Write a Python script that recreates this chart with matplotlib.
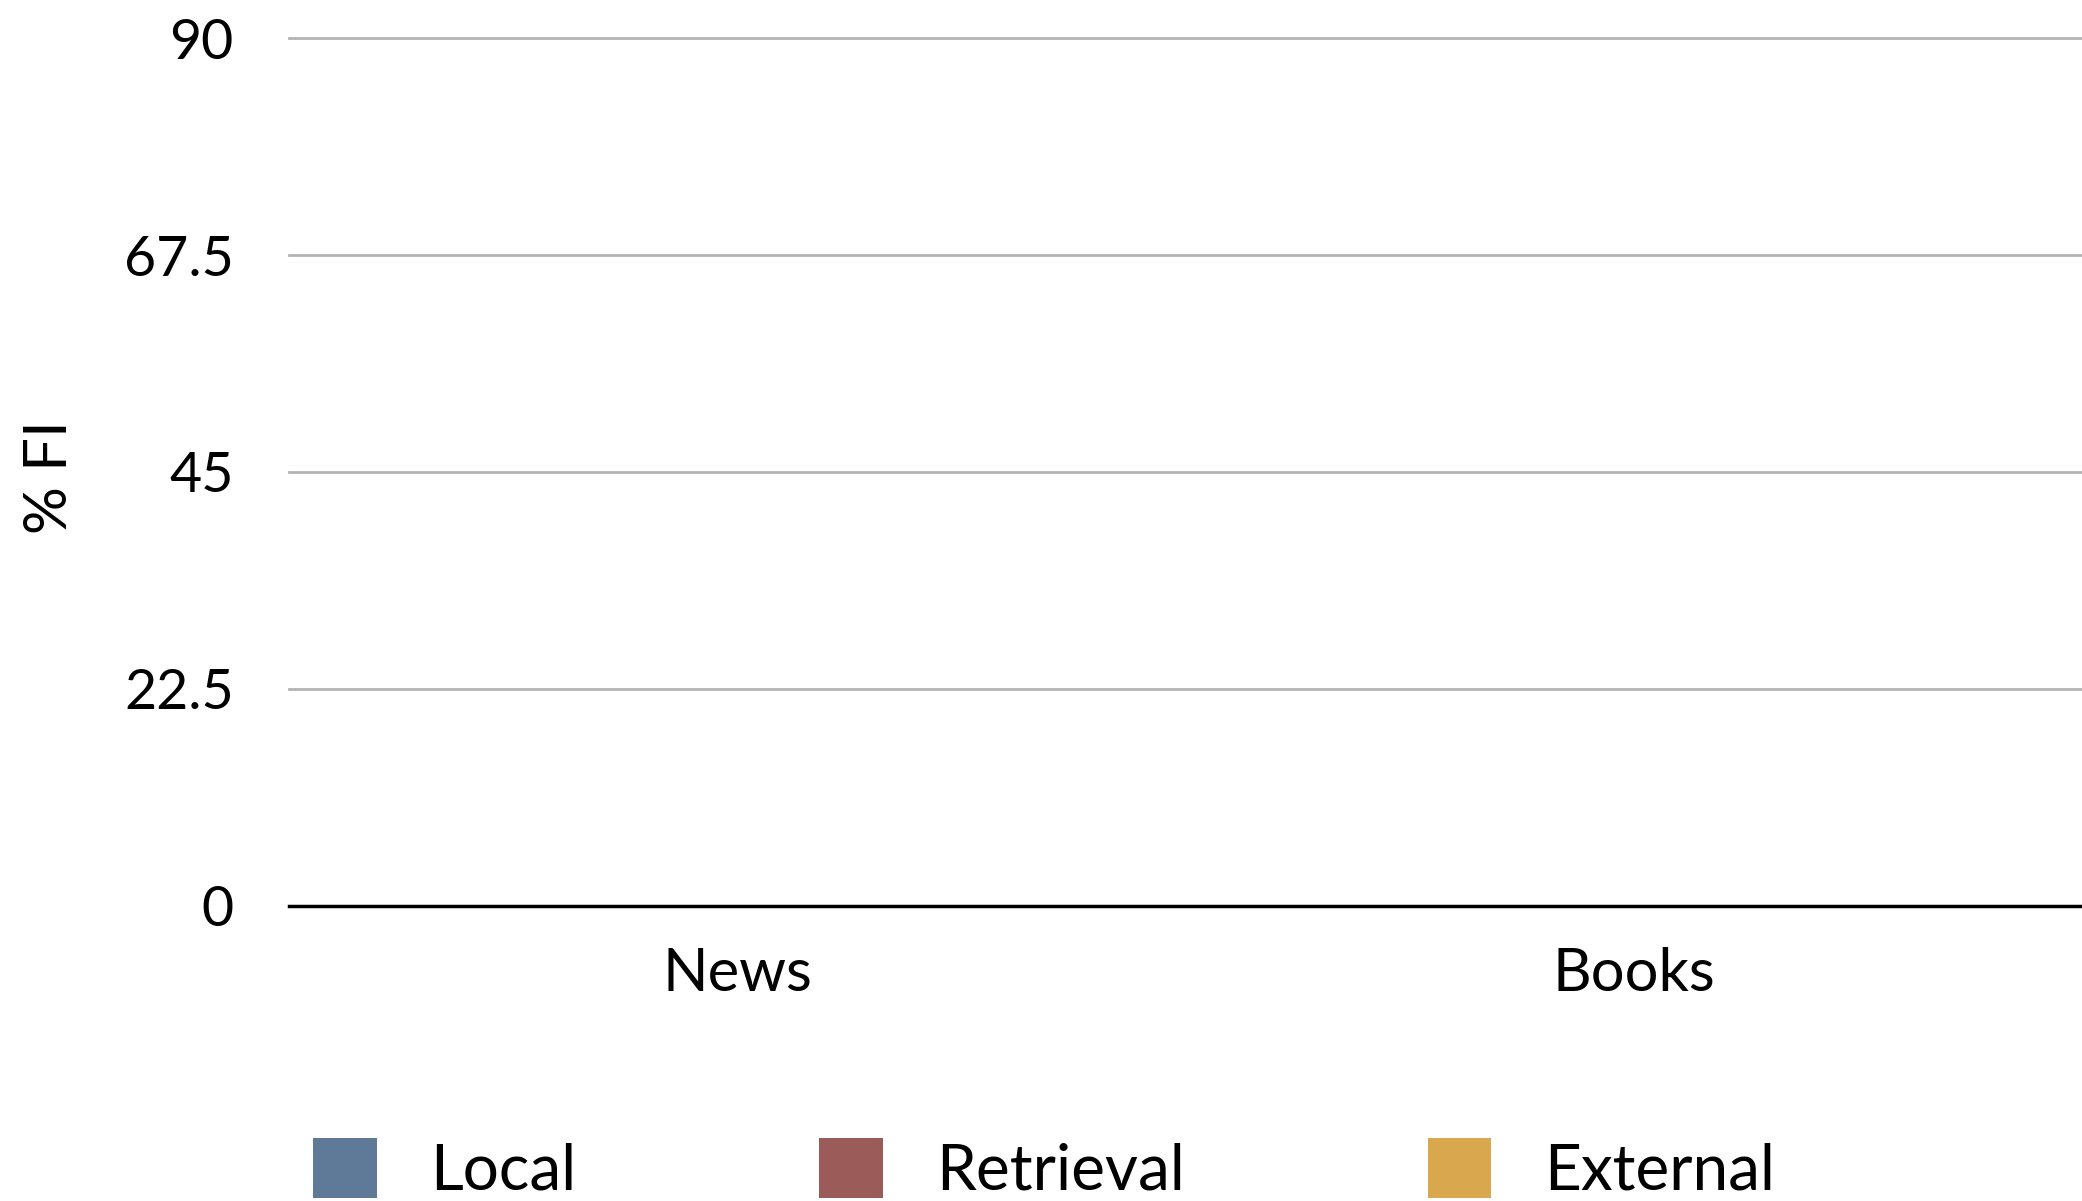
import numpy as np
import matplotlib
matplotlib.use('Agg')
import matplotlib.pyplot as plt

plt.rcParams['font.family'] = ['Lato', 'DejaVu Sans']

# categories and the three feature groups (all shares are zero here)
datasets = ['News', 'Books']
groups = ['Local', 'Retrieval', 'External']
local_vals = [0, 0]
retrieval_vals = [0, 0]
external_vals = [0, 0]
colors = ['#5f7a99', '#9b5b58', '#d9a84e']
yticks = [0, 22.5, 45, 67.5, 90]
ytick_labels = ['0', '22.5', '45', '67.5', '90']

fig = plt.figure(figsize=(20.82, 12.01), dpi=100)
ax = fig.add_axes([0.139, 0.246, 0.861, 0.722])

x = np.arange(len(datasets))
width = 0.22
series = [local_vals, retrieval_vals, external_vals]
for i, (name, vals) in enumerate(zip(groups, series)):
  ax.bar(x + (i - 1) * width, vals, width, color=colors[i], label=name, zorder=3)

ax.set_xlim(-0.5, 1.5)
ax.set_ylim(0, 90)
ax.set_yticks(yticks)
ax.set_yticklabels(ytick_labels)
ax.set_xticks(x)
ax.set_xticklabels(datasets)
ax.tick_params(axis='y', length=0, pad=40, labelsize=40)
ax.tick_params(axis='x', length=0, pad=30, labelsize=43)

for s in ax.spines.values():
  s.set_visible(False)
for v in yticks[1:]:
  ax.axhline(v, color='#b3b3b3', lw=2, zorder=1, clip_on=False)
ax.axhline(0, color='black', lw=2.5, zorder=4, clip_on=False)

fig.text(50 / 2082, 1 - 477 / 1201, '% FI', rotation=90, ha='center', va='center',
         fontsize=43)

fig.legend(loc='upper left', bbox_to_anchor=(313 / 2082, 0.0525), ncol=3, frameon=False,
           fontsize=46, handlelength=1.0, handleheight=1.08, handletextpad=0.83,
           columnspacing=3.8, borderpad=0, borderaxespad=0)

fig.savefig('out.png', dpi=100)
